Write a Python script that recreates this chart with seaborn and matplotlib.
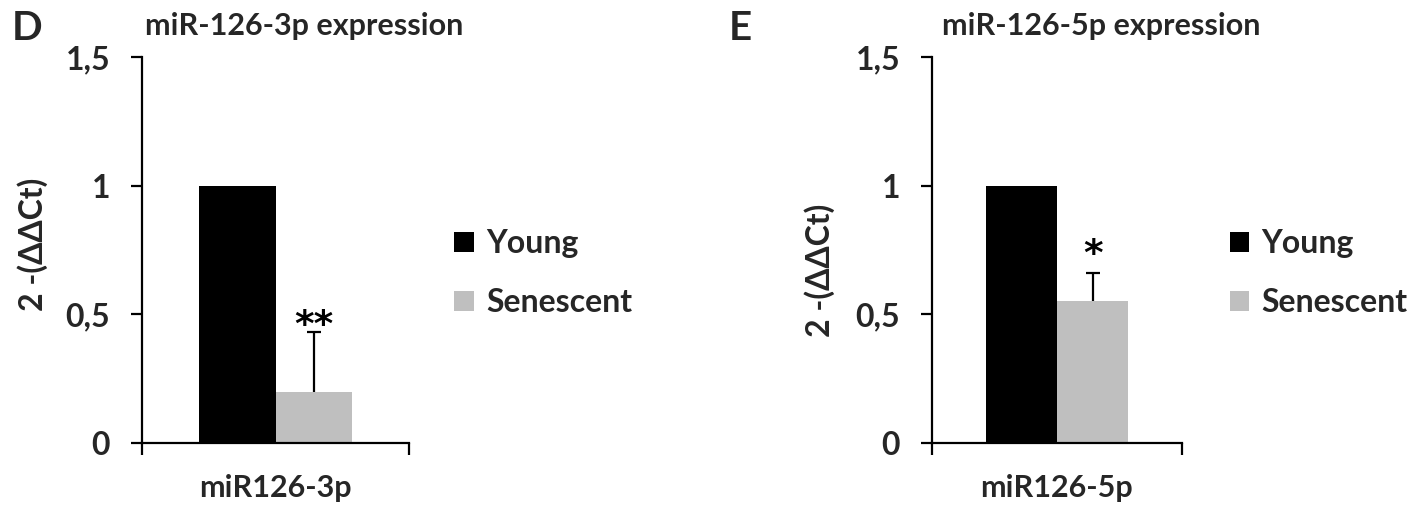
import matplotlib
matplotlib.use("Agg")
import matplotlib.pyplot as plt
import seaborn as sns
import pandas as pd

# qPCR relative expression (2^-ddCt), young vs senescent cells
groups = ["Young", "Senescent"]
targets = ["miR126-3p", "miR126-5p"]
titles = ["miR-126-3p expression", "miR-126-5p expression"]
panel_letters = ["D", "E"]
means_3p = [1.0, 0.20]
errs_3p = [0.0, 0.23]
means_5p = [1.0, 0.55]
errs_5p = [0.0, 0.11]
stars = ["**", "*"]
y_ticks = [0, 0.5, 1, 1.5]
y_tick_labels = ["0", "0,5", "1", "1,5"]
y_label = "2 -(ΔΔCt)"
colors = ["#000000", "#BFBFBF"]

sns.set_theme(style="white")
plt.rcParams["font.family"] = ["Lato", "DejaVu Sans"]
plt.rcParams["font.weight"] = "bold"

fig = plt.figure(figsize=(14.1, 5.07), dpi=100)
W, H = 1410, 507

def px_axes(x0, x1, y_top, y_bot):
    return fig.add_axes([x0 / W, 1 - y_bot / H, (x1 - x0) / W, (y_bot - y_top) / H])

panels = [
    dict(ax=px_axes(142, 409, 57, 443), target=targets[0], means=means_3p, errs=errs_3p,
         star=stars[0], star_gap=-0.045, title=titles[0], letter=panel_letters[0],
         title_x=304, letter_x=12, ylab_x=33, ylab_y=244, leg_x=1.17),
    dict(ax=px_axes(932, 1182, 57, 443), target=targets[1], means=means_5p, errs=errs_5p,
         star=stars[1], star_gap=0.0, title=titles[1], letter=panel_letters[1],
         title_x=1101, letter_x=729, ylab_x=820, ylab_y=270, leg_x=1.19),
]

for p in panels:
    ax = p["ax"]
    df = pd.DataFrame({"target": [p["target"]] * 2, "group": groups,
                       "value": p["means"], "err": p["errs"]})
    sns.barplot(data=df, x="target", y="value", hue="group", hue_order=groups,
                palette=colors, width=0.57, errorbar=None, ax=ax,
                edgecolor="none", linewidth=0, saturation=1)

    # upper-only error bars on the bars that carry a spread
    bars = [b for b in ax.patches if b.get_height() > 0]
    for bar, (m, e) in zip(bars, zip(p["means"], p["errs"])):
        if e > 0:
            cx = bar.get_x() + bar.get_width() / 2
            _, caps, _ = ax.errorbar([cx], [m], yerr=[[0], [e]], fmt="none",
                                     ecolor="black", elinewidth=1.6, capsize=4.8,
                                     capthick=1.6)
            caps[0].set_visible(False)
            ax.text(cx, m + e + p["star_gap"], p["star"], ha="center", va="bottom",
                    fontsize=27, fontweight="bold", color="black",
                    family=["DejaVu Sans"])

    ax.set_ylim(0, 1.5)
    ax.set_xlim(-0.5, 0.5)
    ax.set_yticks(y_ticks)
    ax.set_yticklabels(y_tick_labels, fontsize=23, fontweight="bold")
    ax.set_xticks([0])
    ax.set_xticklabels([p["target"]], fontsize=22, fontweight="bold")
    ax.set_xticks([-0.5, 0.5], minor=True)
    ax.tick_params(axis="x", which="major", length=0, pad=22)
    ax.tick_params(axis="x", which="minor", length=8.5, width=1.6, direction="out",
                   color="black", bottom=True)
    ax.tick_params(axis="y", length=8, width=1.6, direction="out", color="black",
                   left=True, pad=15)
    ax.set_xlabel("")
    ax.set_ylabel("")
    sns.despine(ax=ax)
    for s in ("left", "bottom"):
        ax.spines[s].set_color("black")
        ax.spines[s].set_linewidth(1.6)

    leg = ax.legend(loc="center left", bbox_to_anchor=(p["leg_x"], 0.440),
                    frameon=False, fontsize=23, handlelength=0.6, handleheight=0.6,
                    handletextpad=0.4, labelspacing=0.95, borderpad=0, borderaxespad=0)
    for t in leg.get_texts():
        t.set_fontweight("bold")

    fig.text(p["title_x"] / W, 1 - 35 / H, p["title"], ha="center", va="baseline",
             fontsize=22, fontweight="bold")
    fig.text(p["letter_x"] / W, 1 - 40 / H, p["letter"], ha="left", va="baseline",
             fontsize=29, fontweight="bold")
    fig.text(p["ylab_x"] / W, 1 - p["ylab_y"] / H, y_label, ha="center", va="center",
             rotation=90, fontsize=23, fontweight="bold")

fig.savefig("out.png", dpi=100)
